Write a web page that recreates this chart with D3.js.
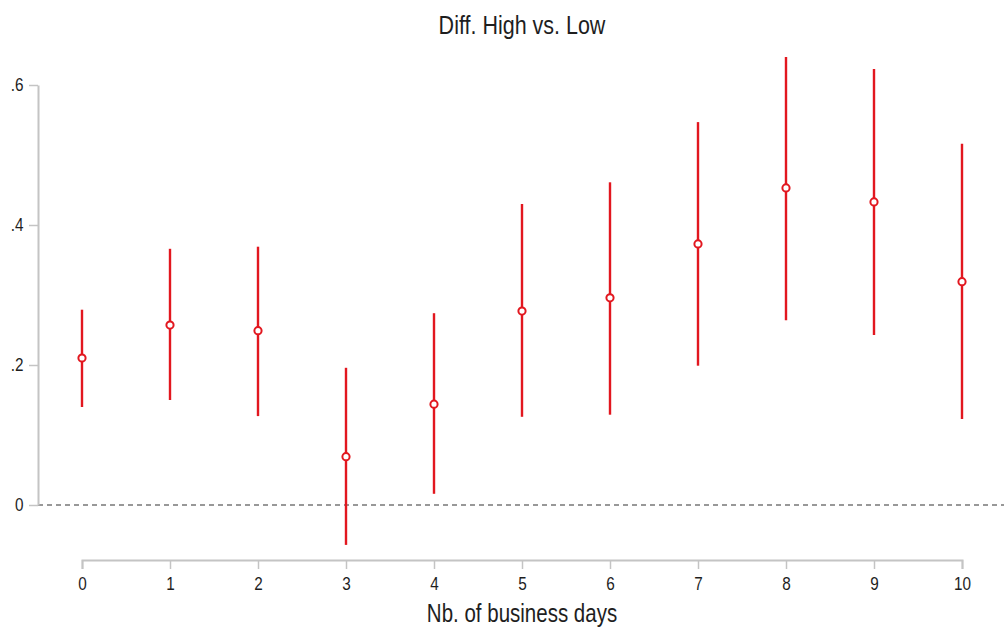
<!DOCTYPE html>
<html>
<head>
<meta charset="utf-8">
<script src="https://cdn.jsdelivr.net/npm/d3@7"></script>
<style>
  html, body { margin: 0; padding: 0; background: #fff; }
  text { font-family: "Liberation Sans", Arial, sans-serif; }
</style>
</head>
<body>
<svg id="chart" width="1004" height="631"></svg>
<script>
const days = [0, 1, 2, 3, 4, 5, 6, 7, 8, 9, 10];
const estimate = [0.210, 0.257, 0.249, 0.069, 0.144, 0.277, 0.296, 0.373, 0.453, 0.433, 0.319];
const upper = [0.279, 0.366, 0.369, 0.196, 0.274, 0.430, 0.461, 0.547, 0.640, 0.623, 0.516];
const lower = [0.140, 0.150, 0.127, -0.057, 0.016, 0.126, 0.129, 0.199, 0.264, 0.243, 0.123];
const yTicks = [0, 0.2, 0.4, 0.6];
const yTickLabels = ["0", ".2", ".4", ".6"];
const title = "Diff. High vs. Low";
const xTitle = "Nb. of business days";

const svg = d3.select("#chart");
const red = "#e2171f";
const axisColor = "#c4c4c4";
const textColor = "#1e1e1e";
const fontFam = '"Liberation Sans", Arial, sans-serif';

const x = d3.scaleLinear().domain([0, 10]).range([82, 962]);
const y = d3.scaleLinear().domain([0, 0.6]).range([505, 85]);

// Title
svg.append("text").attr("transform", "translate(522,34) scale(0.86,1)")
  .attr("text-anchor", "middle").attr("font-size", 25).attr("fill", textColor)
  .attr("font-family", fontFam)
  .text(title);

// zero reference line
svg.append("line")
  .attr("x1", 38).attr("x2", 1004).attr("y1", y(0)).attr("y2", y(0))
  .attr("stroke", "#777").attr("stroke-width", 1.3).attr("stroke-dasharray", "5,4");

// Y axis
const yAxis = d3.axisLeft(y).tickValues(yTicks)
  .tickFormat((d, i) => yTickLabels[i]).tickSize(9).tickPadding(8).tickSizeOuter(0);
const gy = svg.append("g").attr("transform", "translate(38,0)").call(yAxis);
gy.select(".domain").attr("stroke", axisColor).attr("stroke-width", 2);
gy.selectAll(".tick line").attr("stroke", axisColor).attr("stroke-width", 1.5);
gy.selectAll(".tick text").attr("font-size", 18).attr("fill", textColor)
  .attr("font-family", fontFam).attr("transform", "scale(0.85,1)");

// X axis
const xAxis = d3.axisBottom(x).tickValues(days).tickFormat(d3.format("d"))
  .tickSize(9).tickPadding(8).tickSizeOuter(9);
const gx = svg.append("g").attr("transform", "translate(0,560)").call(xAxis);
gx.select(".domain").attr("stroke", axisColor).attr("stroke-width", 2);
gx.selectAll(".tick line").attr("stroke", axisColor).attr("stroke-width", 1.5);
gx.selectAll(".tick text").attr("font-size", 18).attr("fill", textColor)
  .attr("font-family", fontFam).attr("transform", "scale(0.85,1)");

// X title
svg.append("text").attr("transform", "translate(522,622) scale(0.82,1)")
  .attr("text-anchor", "middle").attr("font-size", 25).attr("fill", textColor)
  .attr("font-family", fontFam)
  .text(xTitle);

// Error bars
const data = days.map((d, i) => ({ d, est: estimate[i], lo: lower[i], hi: upper[i] }));
svg.append("g").selectAll("line").data(data).join("line")
  .attr("x1", d => x(d.d)).attr("x2", d => x(d.d))
  .attr("y1", d => y(d.lo)).attr("y2", d => y(d.hi))
  .attr("stroke", red).attr("stroke-width", 2.4);

// Points
svg.append("g").selectAll("circle").data(data).join("circle")
  .attr("cx", d => x(d.d)).attr("cy", d => y(d.est)).attr("r", 3.6)
  .attr("fill", "#fff").attr("stroke", red).attr("stroke-width", 2);
</script>
</body>
</html>
